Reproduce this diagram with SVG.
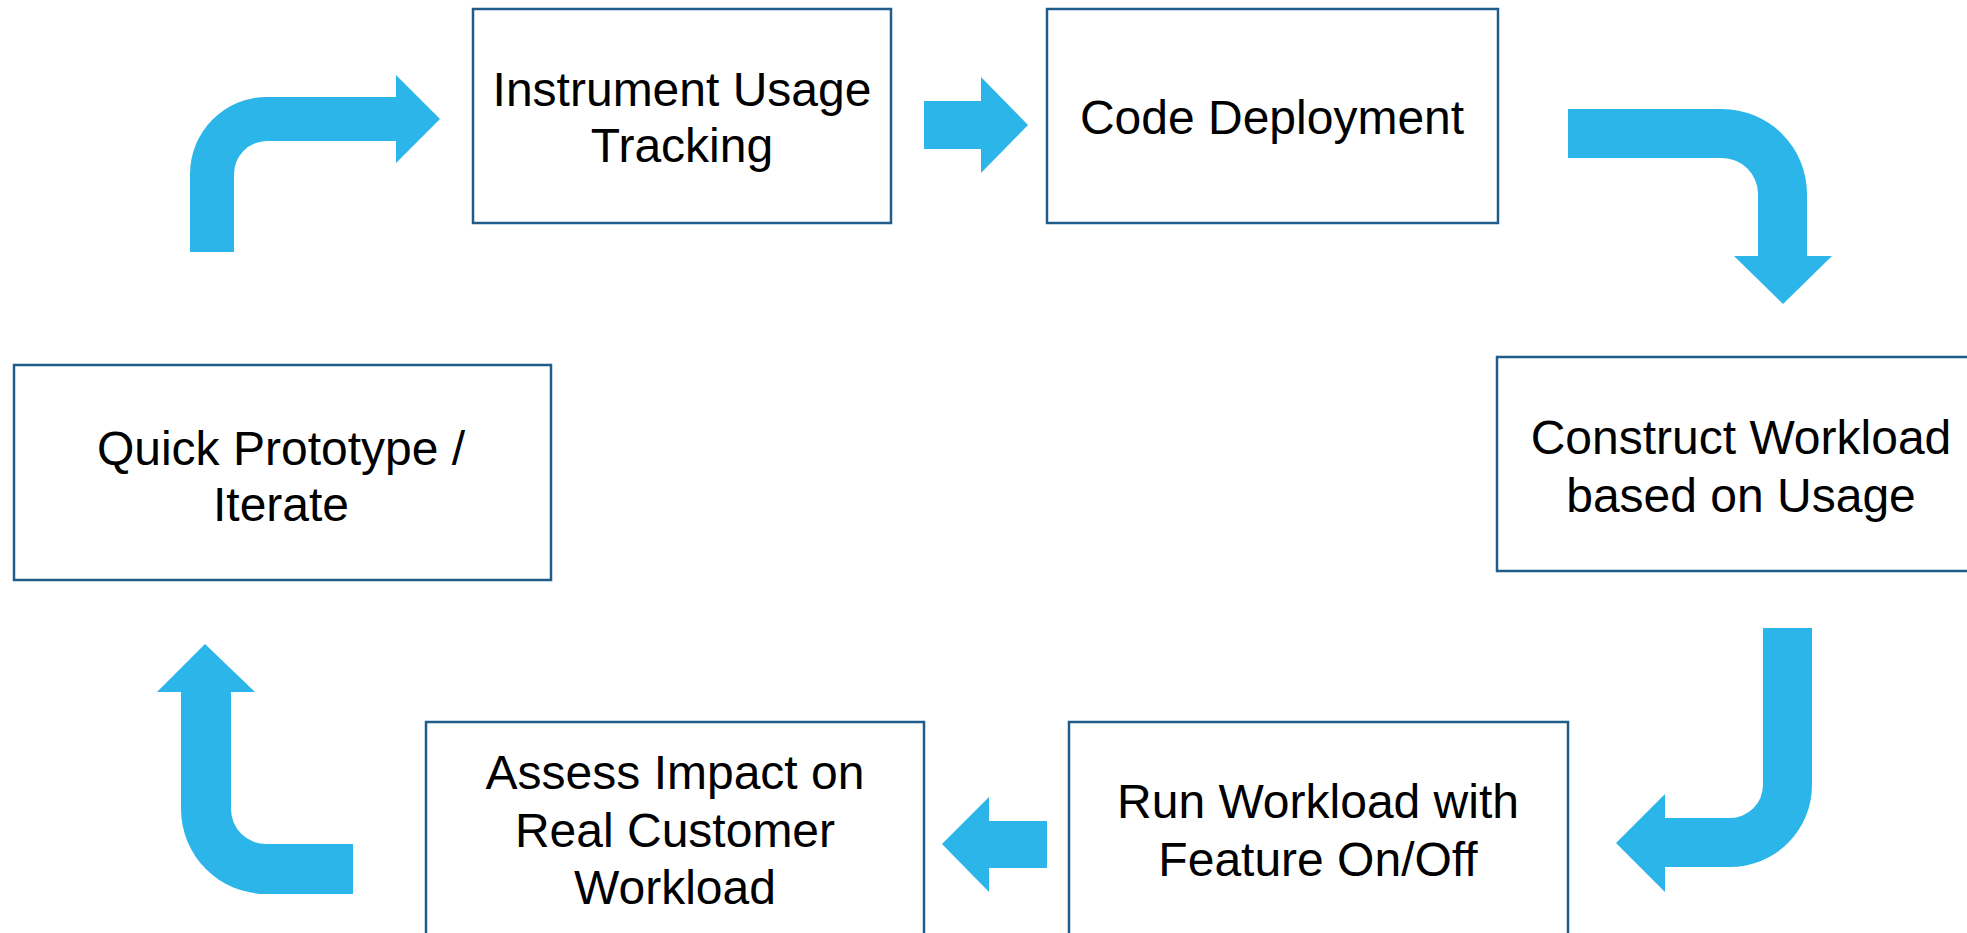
<svg xmlns="http://www.w3.org/2000/svg" width="1967" height="933" viewBox="0 0 1967 933">
<style>
.box{fill:#ffffff;stroke:#1f5c8a;stroke-width:2.5}
.lbl{font-family:"Liberation Sans",Arial,sans-serif;font-size:48px;fill:#000000;text-anchor:middle}
.arr{fill:#2bb5e8;stroke:none}
</style>
<rect width="1967" height="933" fill="#ffffff"/>
<g id="connectors">
<path class="arr" d="M190,252 L190,174 A77,77 0 0 1 267,97 L396,97 L396,75 L440,119 L396,163 L396,141 L267,141 A33,33 0 0 0 234,174 L234,252 Z"/>
<path class="arr" d="M924,101 L981,101 L981,77 L1028,125 L981,173 L981,149 L924,149 Z"/>
<path class="arr" d="M1568,109 L1722,109 A85,85 0 0 1 1807,194 L1807,256 L1832,256 L1783,304 L1734,256 L1758,256 L1758,194 A36,36 0 0 0 1722,158 L1568,158 Z"/>
<path class="arr" d="M1763,628 L1812,628 L1812,785 A82,82 0 0 1 1730,867 L1665,867 L1665,892 L1616,843 L1665,794 L1665,818 L1730,818 A33,33 0 0 0 1763,785 Z"/>
<path class="arr" d="M1047,821 L989,821 L989,797 L942,844 L989,892 L989,868 L1047,868 Z"/>
<path class="arr" d="M353,844 L266,844 A35,35 0 0 1 231,809 L231,692 L255,692 L205,644 L157,692 L181,692 L181,809 A85,85 0 0 0 266,894 L353,894 Z"/>
</g>
<g id="node-instrument">
<rect class="box" x="473" y="9" width="418" height="214"/>
<text class="lbl" x="682" y="106">Instrument Usage</text>
<text class="lbl" x="682" y="162">Tracking</text>
</g>
<g id="node-deploy">
<rect class="box" x="1047" y="9" width="451" height="214"/>
<text class="lbl" x="1272" y="134">Code Deployment</text>
</g>
<g id="node-construct">
<rect class="box" x="1497" y="357" width="490" height="214"/>
<text class="lbl" x="1741" y="454">Construct Workload</text>
<text class="lbl" x="1741" y="512">based on Usage</text>
</g>
<g id="node-prototype">
<rect class="box" x="14" y="365" width="537" height="215"/>
<text class="lbl" x="281" y="465">Quick Prototype /</text>
<text class="lbl" x="281" y="521">Iterate</text>
</g>
<g id="node-run">
<rect class="box" x="1069" y="722" width="499" height="240"/>
<text class="lbl" x="1318" y="818">Run Workload with</text>
<text class="lbl" x="1318" y="876">Feature On/Off</text>
</g>
<g id="node-assess">
<rect class="box" x="426" y="722" width="498" height="240"/>
<text class="lbl" x="675" y="789">Assess Impact on</text>
<text class="lbl" x="675" y="847">Real Customer</text>
<text class="lbl" x="675" y="904">Workload</text>
</g>
</svg>
